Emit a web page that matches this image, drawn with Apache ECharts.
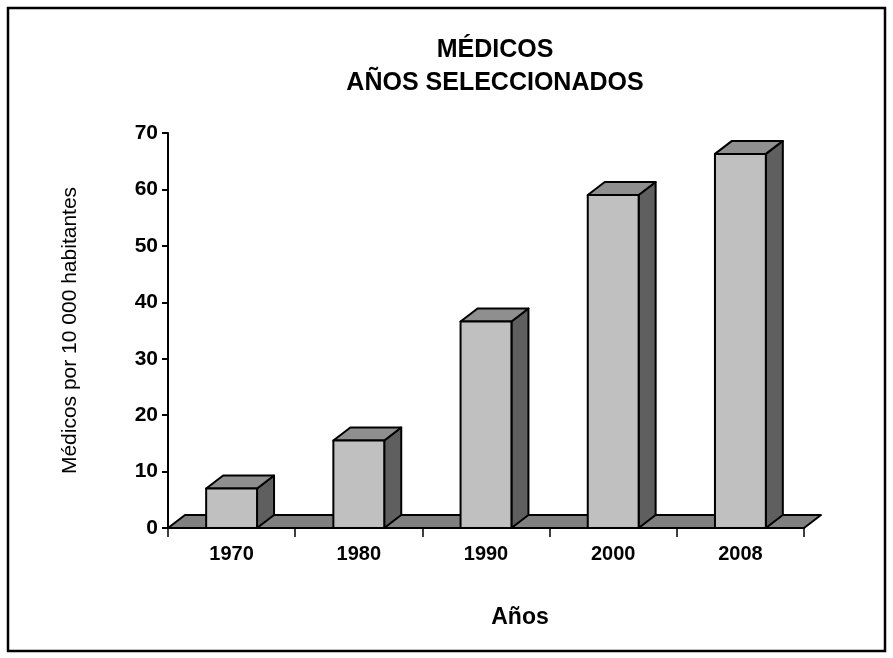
<!DOCTYPE html>
<html>
<head>
<meta charset="utf-8">
<script src="https://cdn.jsdelivr.net/npm/echarts@6/dist/echarts.min.js"></script>
<style>
html,body{margin:0;padding:0;background:#fff;}
#chart{width:893px;height:658px;}
</style>
</head>
<body>
<div id="chart"></div>
<script>
var categories = ['1970', '1980', '1990', '2000', '2008'];
var medicos = [7.0, 15.5, 36.6, 59.0, 66.3];
var yTicks = [0, 10, 20, 30, 40, 50, 60, 70];

var DX = 17, DY = 13;
var chart = echarts.init(document.getElementById('chart'));

function bar3d(params, api) {
  var idx = api.value(0);
  var top = api.coord([idx, api.value(1)]);
  var base = api.coord([idx, 0]);
  var band = api.size([1, 0])[0];
  var w = band * 0.4;
  var x0 = top[0] - w / 2, x1 = top[0] + w / 2;
  var yt = top[1], yb = base[1];
  var st = {stroke: '#000', lineWidth: 2, lineJoin: 'round'};
  return {
    type: 'group',
    children: [
      {type: 'polygon', shape: {points: [[x1, yb], [x1 + DX, yb - DY], [x1 + DX, yt - DY], [x1, yt]]},
        style: Object.assign({fill: '#5f5f5f'}, st)},
      {type: 'polygon', shape: {points: [[x0, yt], [x1, yt], [x1 + DX, yt - DY], [x0 + DX, yt - DY]]},
        style: Object.assign({fill: '#8f8f8f'}, st)},
      {type: 'rect', shape: {x: x0, y: yt, width: w, height: yb - yt},
        style: Object.assign({fill: '#c0c0c0'}, st)}
    ]
  };
}

function floor(params, api) {
  var cs = params.coordSys;
  var yb = api.coord([0, 0])[1];
  var xl = cs.x, xr = cs.x + cs.width;
  return {
    type: 'polygon',
    shape: {points: [[xl, yb], [xr, yb], [xr + DX, yb - DY], [xl + DX, yb - DY]]},
    style: {fill: '#808080', stroke: '#000', lineWidth: 2, lineJoin: 'round'}
  };
}

var option = {
  backgroundColor: '#fff',
  animation: false,
  title: {
    text: 'MÉDICOS\nAÑOS SELECCIONADOS',
    left: 490,
    top: 29,
    textAlign: 'center',
    textStyle: {fontFamily: 'Liberation Sans, Arial', fontWeight: 'bold', fontSize: 25, lineHeight: 33, color: '#000'}
  },
  graphic: [{
    type: 'rect', z: -1,
    shape: {x: 8, y: 8, width: 877, height: 643},
    style: {fill: 'none', stroke: '#000', lineWidth: 2.5}
  }],
  grid: {left: 168, right: 89, top: 133, bottom: 130},
  xAxis: {
    type: 'category',
    data: categories,
    boundaryGap: true,
    name: 'Años',
    nameLocation: 'middle',
    nameGap: 78,
    nameTextStyle: {fontFamily: 'Liberation Sans, Arial', fontWeight: 'bold', fontSize: 23, color: '#000', padding: [0, 0, 0, 68]},
    axisLine: {lineStyle: {color: '#000', width: 2}},
    axisTick: {show: true, alignWithLabel: false, length: 9, lineStyle: {color: '#000', width: 1.5}},
    axisLabel: {margin: 16, fontFamily: 'Liberation Sans, Arial', fontWeight: 'bold', fontSize: 20, color: '#000'},
    splitLine: {show: false}
  },
  yAxis: {
    type: 'value',
    min: yTicks[0],
    max: yTicks[yTicks.length - 1],
    interval: 10,
    name: 'Médicos por 10 000 habitantes',
    nameLocation: 'middle',
    nameGap: 87,
    nameTextStyle: {fontFamily: 'Liberation Sans, Arial', fontSize: 21, color: '#000'},
    axisLine: {show: true, lineStyle: {color: '#000', width: 2}},
    axisTick: {show: true, length: 6, lineStyle: {color: '#000', width: 2}},
    axisLabel: {margin: 10, fontFamily: 'Liberation Sans, Arial', fontWeight: 'bold', fontSize: 21, color: '#000'},
    splitLine: {show: false}
  },
  series: [
    {type: 'custom', renderItem: floor, data: [[0, 0]], z: 1, clip: false, silent: true},
    {type: 'custom', renderItem: bar3d, data: categories.map(function (c, i) { return [i, medicos[i]]; }), z: 2, clip: false}
  ]
};
chart.setOption(option);
</script>
</body>
</html>
